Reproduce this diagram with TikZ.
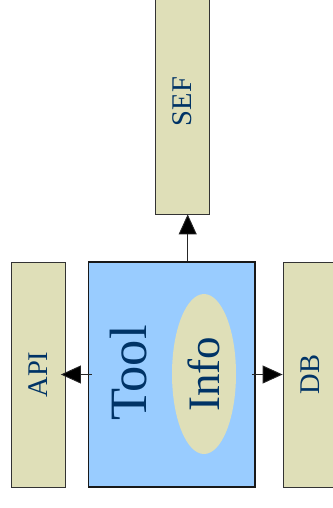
\documentclass[tikz,border=0pt]{standalone}
\usepackage{fontspec}
\setmainfont{Liberation Serif}
\usetikzlibrary{arrows.meta,shapes.geometric}
\definecolor{beige}{RGB}{223,223,184}
\definecolor{lblue}{RGB}{153,204,255}
\definecolor{navy}{RGB}{0,51,102}
\tikzset{
  sidebox/.style={draw=black!80,line width=0.8pt,fill=beige,rectangle,rotate=90,
    minimum width=225pt,minimum height=54pt,inner sep=0pt,text=navy,
    font=\fontsize{28.5}{28.5}\selectfont},
  arr/.style={draw=black!85,line width=0.9pt,-{Triangle[length=20pt,width=18pt,fill=black]}}
}
\begin{document}
\begin{tikzpicture}[x=1pt,y=-1pt]
\useasboundingbox (0,0) rectangle (332,508);
\node[sidebox] (api) at (38,374.5) {API};
\node[sidebox] (db) at (310,374.5) {DB};
\node[sidebox,minimum height=53.3pt] (sef) at (182.5,101.5) {SEF};
\node[draw=black!90,line width=1.4pt,fill=lblue,rectangle,minimum width=166.7pt,
  minimum height=225pt,inner sep=0pt] (tool) at (171.7,374.5) {};
\node[rotate=90,text=navy,font=\fontsize{52.5}{52.5}\selectfont,inner sep=0pt] (toollabel) at (129,373) {Tool};
\node[ellipse,fill=beige,rotate=90,minimum width=160pt,minimum height=64pt,inner sep=0pt,
  text=navy,font=\fontsize{45}{45}\selectfont] (info) at (204,374) {Info};
\coordinate (up) at ([xshift=16pt]tool.north);
\draw[arr] ([xshift=4pt]tool.west) -- ([xshift=-4.5pt]api.south);
\draw[arr] ([xshift=-3.5pt]tool.east) -- (db.north);
\draw[arr] (up) -- (up |- sef.west);
\end{tikzpicture}
\end{document}
